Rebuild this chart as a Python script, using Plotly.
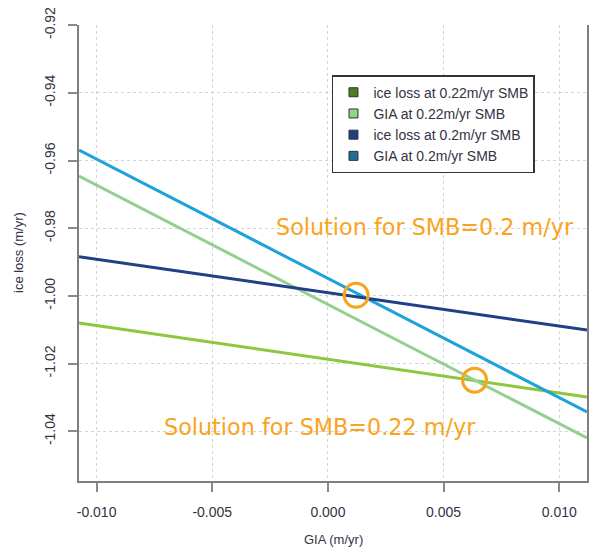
import plotly.graph_objects as go

# ---- data ----
gia_x = [-0.01076, 0.0112]
ice_loss_022 = [-1.0080, -1.0299]   # ice loss at 0.22 m/yr SMB
gia_022 = [-0.9646, -1.0420]        # GIA at 0.22 m/yr SMB
ice_loss_02 = [-0.9884, -1.0101]    # ice loss at 0.2 m/yr SMB
gia_02 = [-0.9569, -1.0343]         # GIA at 0.2 m/yr SMB

solution_x = [0.00122, 0.00634]
solution_y = [-0.9998, -1.0249]

label_text = ["Solution for SMB=0.2 m/yr", "Solution for SMB=0.22 m/yr"]
label_x = [0.00419, -0.00035]
label_y = [-0.9797, -1.0388]

legend_names = ["ice loss at 0.22m/yr SMB", "GIA at 0.22m/yr SMB",
                "ice loss at 0.2m/yr SMB", "GIA at 0.2m/yr SMB"]
legend_colors = ["#4f7d22", "#95d18e", "#1d3f85", "#1b6f98"]

x_ticks = [-0.010, -0.005, 0.000, 0.005, 0.010]
x_ticktext = ["-0.010", "-0.005", "0.000", "0.005", "0.010"]
y_ticks = [-0.92, -0.94, -0.96, -0.98, -1.00, -1.02, -1.04]
y_ticktext = ["-0.92", "-0.94", "-0.96", "-0.98", "-1.00", "-1.02", "-1.04"]

ORANGE = "#f9a41e"
fig = go.Figure()

line_specs = [
    (ice_loss_022, "#8dc63f"),
    (gia_022, "#93d08f"),
    (gia_02, "#1ba3da"),
    (ice_loss_02, "#1f3f86"),
]
for ys, col in line_specs:
    fig.add_trace(go.Scatter(x=gia_x, y=ys, mode="lines",
                             line=dict(color=col, width=3), showlegend=False,
                             hoverinfo="skip"))

fig.add_trace(go.Scatter(x=solution_x, y=solution_y, mode="markers",
                         marker=dict(symbol="circle-open", size=24,
                                     line=dict(color=ORANGE, width=3), color=ORANGE),
                         showlegend=False))

for name, col in zip(legend_names, legend_colors):
    fig.add_trace(go.Scatter(x=[None], y=[None], mode="markers", name=name,
                             marker=dict(symbol="square", size=9, color=col,
                                         line=dict(color="#333333", width=1))))

for t, xv, yv in zip(label_text, label_x, label_y):
    fig.add_annotation(x=xv, y=yv, text=t, showarrow=False,
                       font=dict(family="DejaVu Sans", size=22.3, color=ORANGE))

fig.add_annotation(x=0.5, y=0, xref="paper", yref="paper", yshift=-58,
                   xanchor="center", yanchor="middle",
                   text="GIA (m/yr)", showarrow=False,
                   font=dict(family="Liberation Sans", size=13, color="#333344"))
fig.add_annotation(x=0, y=0.5, xref="paper", yref="paper", xshift=-61,
                   xanchor="center", yanchor="middle",
                   text="ice loss (m/yr)", textangle=-90, showarrow=False,
                   font=dict(family="Liberation Sans", size=13, color="#333344"))

axis_common = dict(showline=True, linecolor="#7f7f7f", linewidth=2,
                   ticks="outside", ticklen=9, tickwidth=2, tickcolor="#8a8a8a",
                   showgrid=True, gridcolor="#d4d4d4", griddash="dot", gridwidth=1,
                   zeroline=False,
                   tickfont=dict(family="Liberation Sans", size=14, color="#333344"))

fig.update_xaxes(range=[gia_x[0], gia_x[1]], tickvals=x_ticks, ticktext=x_ticktext,
                 ticklabelstandoff=8, **axis_common)
fig.update_yaxes(range=[-1.0547, -0.91995], tickvals=y_ticks, ticktext=y_ticktext,
                 tickangle=-90, mirror=True, ticklabelstandoff=7, **axis_common)

fig.update_layout(
    width=593, height=560,
    margin=dict(l=79, r=4, t=25, b=79),
    plot_bgcolor="white", paper_bgcolor="white",
    legend=dict(x=0.498, y=0.890, xanchor="left", yanchor="top",
                bordercolor="#333333", borderwidth=1.5, bgcolor="white",
                font=dict(family="Liberation Sans", size=14, color="#333344"),
                tracegroupgap=0, itemwidth=30),
)

fig.write_html("out.html", config={"displayModeBar": False},
               post_script="document.body.style.margin='0';document.body.style.overflow='hidden';")
